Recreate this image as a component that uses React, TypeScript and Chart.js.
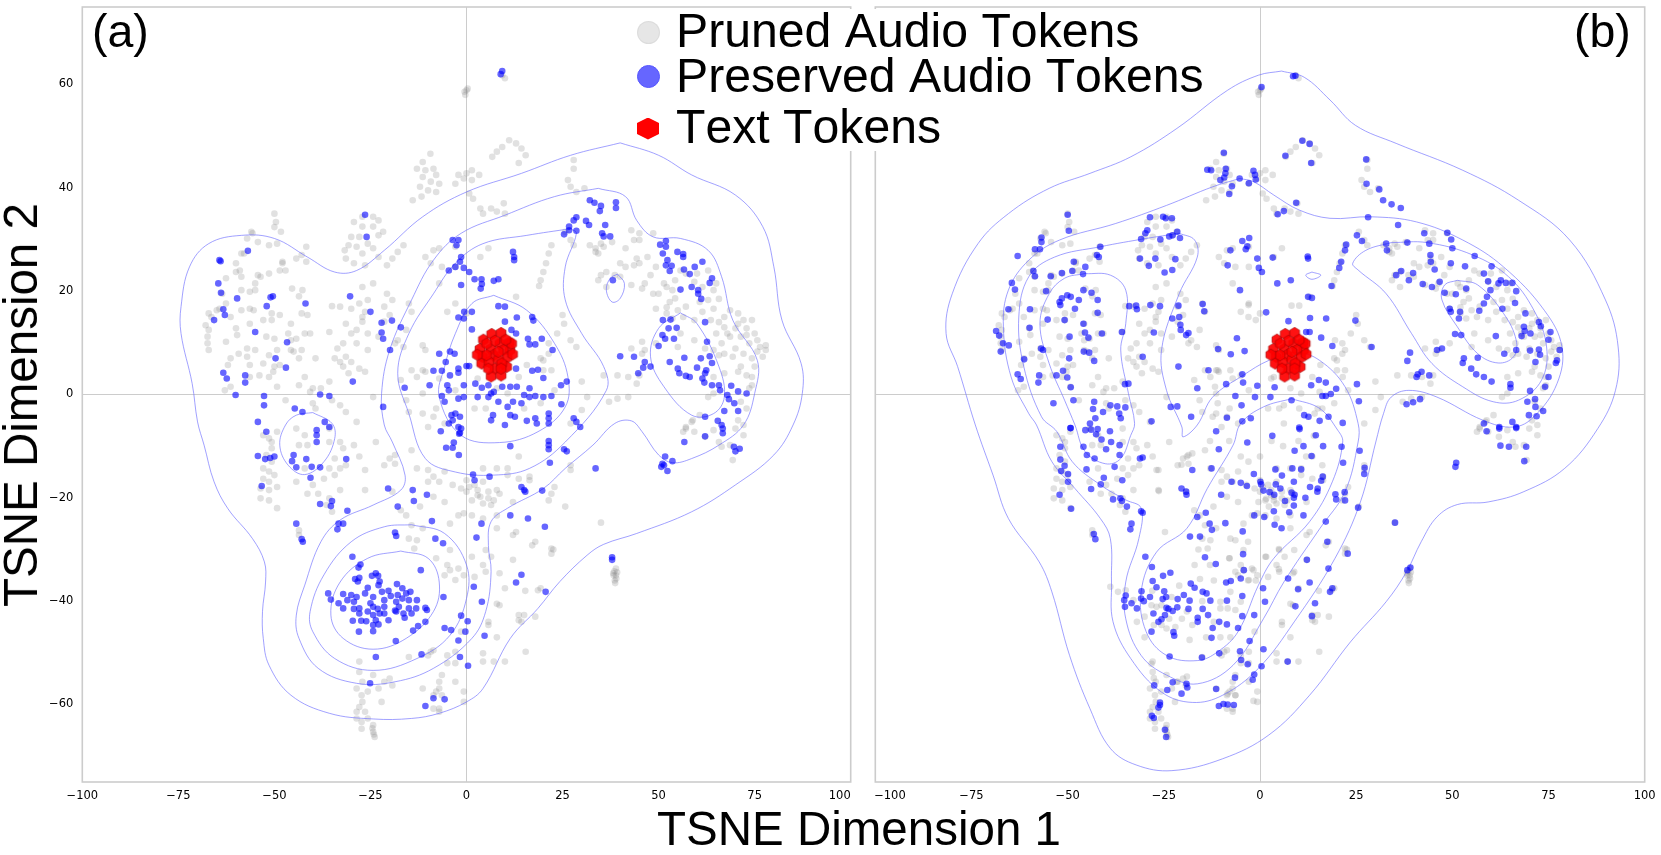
import React, { useEffect, useRef } from "react";
import { Chart, registerables } from "chart.js";

Chart.register(...registerables);

type P = [number, number];

const xTicks = [-100, -75, -50, -25, 0, 25, 50, 75, 100];
const yTicks = [-60, -40, -20, 0, 20, 40, 60];
const legendLabels = ["Pruned Audio Tokens", "Preserved Audio Tokens", "Text Tokens"];
const xTitle = "TSNE Dimension 1";
const yTitle = "TSNE Dimension 2";

const textTokens: P[] = [
  [4.4,10.6],[6.55,11.7],[9,11.9],[11.15,10.05],[3.5,8.8],[6.3,8.8],[8.7,9.85],[11.3,8.6],[7.4,10.4],[4.2,7.3],
  [7,7.6],[9.6,8.6],[10.6,7.15],[3.95,6],[5.9,6.3],[8.3,6.75],[10.45,5.35],[7.4,5],[6.4,3.5],[9,3.7],
  [5.25,9.85],[8.3,8.25],[11.75,9.85],[9.15,6],[5.7,5],[5.2,7.6],[10.2,10.6],[2.8,7.7],[9,5],[12,7.8],
];

const prunedShared: P[] = [
  [0,58.9],[0.3,59.2],[-0.3,58],[-0.5,58.6],[9.3,61.8],[10,61.2],[11.1,49.2],[9.3,47.9],[7.9,47],[6.7,46],[12.9,48.6],[14.3,47.6],[15.4,46.3],[13.6,44.8],
  [-9.4,46.6],[-11.4,45],[-12.9,43.7],[-10.7,43.4],[-8.6,43.7],[-7.9,42.5],[-11.4,42.1],[-9.3,41.2],[-7.1,40.8],[-12.1,40.2],[-10,39.5],[-7.9,39.2],[-11.7,38.3],[-14,37.6],
  [-2.1,42.5],[0,42.8],[1.4,43.4],[-0.7,41.8],[1.4,41.5],[3.3,42.5],[-2.9,40.8],[0.7,38.9],[1.7,37.9],[3.6,36],[4.3,35],[6.4,36],[7.9,35.4],[9.7,37],[10,35],
  [27.9,45.4],[27.9,43.7],[26.4,41.5],[27.1,40.2],[28.6,39.2],[30.7,39.9],
  [-27.1,34.4],[-24.3,34.4],[-29.3,33.4],[-22.9,33.7],[-27.1,32.5],[-24.3,32.5],[-21.7,31.5],[-30,30.5],[-27.9,30.5],[-22.9,30.8],[-30.7,28.9],[-28.6,28.6],[-25.7,29.2],[-24.3,28.3],[-31.7,27.9],[-31.4,26.3],[-27.1,27.3],[-29.3,25.4],[-26.4,25],[-22.9,26.6],[-19.3,26.3],[-17.9,27.6],[-16.4,28.9],[-20.7,25],
  [-50,35],[-49.6,33.4],[-50,32.4],[-48.3,31.5],[-56,31.5],[-57.1,30.2],[-51.4,28.9],[-49.3,29.2],[-41.7,28.6],[-42.9,27],[-44.3,26.3],[-41.7,25.7],[-57.9,27.3],[-60,25.4],[-59,24],[-47.9,25.4],[-48.6,24],[-51.4,23.4],[-54.3,23.1],[-58.6,22.8],[-55,20.2],[-56.4,19.9],[-45.4,20.5],[-42.7,20.2],[-62.6,22.5],[-62.6,17.6],[-67.1,15.7],[-65,16.3],[-67.1,12.5],[-67.4,9.9],[-67.1,8.6],[-62.6,10.2],[-61.4,7],[-60,12.8],[-59.7,11.5],[-56.4,13.7],[-55.4,16.3],[-50.7,14.4],[-48.6,15.4],[-42.9,15.7],[-41.4,15.4],[-45.7,13.7],[-42.1,11.8],[-40.7,11.8],[-52.1,11.2],[-50,10.8],[-45.7,10.5],[-44.3,10.8],[-57.1,8.9],[-55,8.6],[-45,8.3],[-42.9,8.6],[-51.4,7.6],[-39.3,7],[-56.4,5.7],[-50,5.4],[-53.9,3.7],[-50.3,4.4],[-56.4,3.4],[-49.3,1.5],[-43.6,1.8],[-35.7,2.5],[-40,1.2],[-34.3,7],[-31.4,7.3],[-32.1,9.9],[-35.7,12.1],[-35,17.1],[-32.9,17],[-30,16.6],[-27.9,17.6],[-26.4,16],[-31.4,13.7],[-28.6,12.5],[-27.1,15],[-25.7,11.8],[-25.7,8.6],[-32.1,5.4],[-30,6.3],[-27.9,5],[-26.4,4.4],
  [-20.7,19.5],[-19.3,18.3],[-15,17.6],[-21.4,17],[-20,15.4],[-14.3,16],[-17.9,10.5],[-16.4,9.2],[-11.4,9.5],[-10.7,8.6],[-11.4,4.7],[-14.3,4.7],[-12.9,3.4],[-10.7,4.4],[-24.3,-0.5],[-17.1,2.8],[-15.7,-1.1],[-11.4,0.2],[-15,-3.4],[-8.6,-4.3],[-11.4,-3.7],[-5.7,-5.6],
  [-10.7,26.6],[-8.6,27.9],[-7.1,28.3],[-9.3,25.4],[-6.4,24.7],[-7.1,21.5],[-2.9,24.7],[-2.9,28.6],[3.6,26.6],[5.7,28.3],[12.9,18.9],[-2.9,17.6],[-5,16],[0,15.7],
  [22.1,28.9],[21.4,27.3],[20.7,25.4],[20,23.7],[19.3,22.1],[18.9,21],[27.1,29.9],[27.9,28.9],[25.7,31.5],
  [25,15.4],[25.4,13.7],[27.1,10.5],[28.6,9.2],[23.6,11.8],[21.4,9.9],[21.4,7.9],[19.3,7],[22.1,4.7],[35.7,3.7],[39.3,3.7],[42.1,3.4],[44.3,2.1],[45,3.7],[37.1,-1.4],[39.3,-0.8],[42.1,-0.5],
  [35,29.2],[34.3,27.3],[33.6,28.3],[37.9,29.5],[42.9,31.8],[45,29.9],[48.6,31.2],[41.4,28.3],[44.3,26.3],[43.6,25],[40,25.4],[36.4,23.7],[35,23.1],[34.3,22.1],[36.4,20.8],[40,22.8],[42.9,21.2],[45.7,20.5],[48.6,19.5],[52.1,20.8],[54.3,22.1],[47.9,23.1],[49.3,24.7],[57.1,23.4],[60,23.4],[62.9,24],[64.3,20.2],[65.7,18.5],[57.1,17],[52.9,17.9],[49.3,16.6],[55,16.3],[59.3,14.4],[64.3,16.6],[67.1,15],[70.7,15.7],[72.1,14.4],[74.3,14.4],[67.1,13],[70,12.8],[72.9,12.8],[75,11.8],[68.6,11.2],[71.4,11.2],[75.7,10.5],[73.6,9.9],[77.9,8.6],[76.4,9.2],[66.4,9.9],[70,8.9],[77.1,7.3],[74.3,7],[71.4,5.4],[75,5.4],[65.7,7.6],[62.1,8.9],[45.7,10.2],[46.4,8.6],[55,9.2],[59.3,10.5],[74.3,1.8],[64.3,0.2],[58.6,-5.3],[57.1,-6.3],
  [57.1,-6.6],[59.3,-7.2],[62.1,-8.2],[65.7,-9.2],[68.6,-9.8],[72.1,-7.9],[70,-6.6],[64.3,-6.9],[56.4,-7.2],[69.3,-12.7],[66.4,-10.1],
  [-51.4,-8.5],[-50.7,-10.4],[-52.1,-11.7],[-50.7,-13],[-51.4,-14.9],[-51.4,-16.9],[-53.6,-18.2],[-51.4,-18.5],[-53.6,-20.1],[-51.4,-20.5],[-49.3,-22],[-44.3,-6.6],[-42.1,-7.9],[-43.6,-9.8],[-35.7,-6.6],[-32.1,-10.4],[-29.3,-9.8],[-34.3,-12.4],[-32.9,-14.3],[-35.7,-14.3],[-37.1,-16.3],[-44.3,-16.9],[-41.4,-19.2],[-35.7,-20.1],[-35,-22.7],[-32.9,-18.5],[-43.6,-27.2],[-26.4,-14.6],[-26.4,-18.5],[-23.6,-9.2],[-20,-12.4],[-18.6,-13.4],[-19.3,-18.8],[-14.3,-10.8],[-12.9,-14.3],[-10,-14.6],[-7.1,-16.9],[-3.6,-17.5],[-10,-16.9],
  [0,-16.6],[2.1,-17.5],[4.3,-16.9],[0,-18.8],[2.9,-19.5],[5.7,-18.8],[8.6,-19.2],[1.4,-20.5],[4.3,-21.1],[7.1,-20.5],[-0.7,-23],[1.4,-23.4],[4.3,-24],[6.4,-21.4],[12.1,-20.8],[10.7,-14.3],[7.9,-14.3],[4.3,-14.3],[13.6,-12],[27.1,-14.6],[16.4,-15.9],[25.7,-21.7],[22.9,-17.9],[21.4,-20.5],[35,-24.8],[12.9,-26.6],[17.9,-28.5],[22.1,-30.8],[22.6,-30],[7.9,-25.9],
  [-15,-27.9],[-12.9,-28.2],[-11.4,-25.9],[-13.6,-29.8],[-4.3,-30.1],[-7.9,-31.7],[-4.3,-34],[-2.1,-33.7],[1.4,-31.4],[5,-30.1],[12.1,-32],[8.6,-34.6],[5,-34.3],[2.1,-35.3],[10,-37.5],[18.6,-37.9],[15.3,-38],[7.9,-40.5],[13.6,-42.7],[14.3,-44],[17.9,-43],[5.7,-44.6],[7.9,-47],[15.4,-49.8],[4.3,-50.1],[10,-51.7],[4.3,-51.7],[7.1,-51.7],[-5,-52],[-2.9,-52],[-1.4,-45.9],[-9.3,-49.8],[-15,-50.8],[-6.4,-54.3],[-2.9,-55.6],[-7.1,-56.9],[-8.6,-58.2],[-0.7,-57.5],[-11.4,-56.9],[-7.1,-60.8],[-0.7,-59.5],
  [-27.9,-51.7],[-27.9,-53.7],[-24.3,-54.3],[-21.4,-55.6],[-20,-55],[-28.6,-56.9],[-25.7,-57.5],[-22.1,-59.5],[-27.3,-58.2],[-27.9,-60.5],[-26.4,-61.4],[-28.6,-62.7],[-27.3,-63.4],[-27.3,-64.7],[-24.3,-64],[-24.3,-65.3],[-23.9,-66.3],[-24.1,-65.8],[-24.5,-64.6],
  [38.9,-33.7],[38.9,-35],[38.6,-36],[39.2,-34.4],[38.3,-35],[38.5,-34.2],[39,-35.6],[38.7,-36.5],[38.2,-34.6],
  [52.1,15.7],[53.6,14.7],[56.4,15],[61.4,16],[63.6,14.4],[65.7,14],[68.6,16.3],[65,11.8],[67.9,11.8],[70.7,13.7],[72.9,11.5],[67.1,7.9],[64.3,8.6],[69.3,7.3],[72.1,7.9],[75.7,8.3],[77.9,9.5],[72.9,3.7],[70.7,4.4],[67.1,4.1],[74.3,3.4],[73.6,1.2],[71.4,-1.4],[72.9,-2.7],[70.7,-5],[72.1,-5.9],[62.9,-0.5],[60.7,-4],[58.9,-5],[64.3,3.4],[55.7,11.8],[49.3,9.9],[45.7,7.9],[42.9,8.9],
  [47.1,26.6],[45,25.4],[41.4,24.7],[38.6,23.1],[46.4,21.5],[50,19.5],[51.4,21.5],[53.6,20.2],[55.7,24],[59.3,21.8],[61.4,20.8],[65,21.5],[60.7,17.9],[62.9,18.3],[54.3,18.6],[52.1,16.9],[35.7,28.6],[32.1,28.9],[33.6,27.6],[43.6,29.9],[45,31.2],
  [-58.6,27.3],[-55.7,31.2],[-54.3,29.5],[-47.9,25.7],[-47.1,24],[-53.6,22.8],[-55,21.5],[-43.6,19],[-60,23.7],[-58.6,20.2],[-63.6,19.5],[-64.3,16.6],[-66.4,15],[-67.9,13.4],[-67.4,11.2],[-61.4,15],[-58.6,16.3],[-56.4,16.6],[-52.9,14.4],[-50.7,15.7],[-46.4,11.8],[-45.7,8.6],[-43.6,7],[-49.3,8.6],[-52.9,6],[-57.1,7.3],[-59.3,7.9],[-62.1,5.7],[-61.4,1.5],[-62.9,0.8],[-51.4,3.4],[-48.6,5.7],[-42.1,3.4],[-40.7,0.5],[-37.9,1.2],[-35,-1.1],[-40,-1.7],[-47.1,-1.1],[-39.3,-2.7],[-32.9,-2.1],[-31.4,-3.4],[-28.6,-5.3],[-32.9,6.3],[-30.7,4.1],[-33.6,8.9],[-30,11.8],[-27.1,14.1],[-21.4,14.1],[-22.9,11.2],[-15.7,12.5],[-18.6,9.9],[-25.7,18.3],[-27.1,20.8],[-24.3,21.5],[-28.6,9.9],
  [-52.9,-7.9],[-49.3,-7.2],[-50.7,-9.2],[-52.9,-14.3],[-50,-15.6],[-52.9,-16.3],[-49.3,-17.9],[-42.1,-14.3],[-40,-17.5],[-38.6,-19.2],[-36.4,-21.4],[-34.3,-15.6],[-31.4,-13.7],[-41.4,-9.8],[-32.9,-9.2],[-35.7,-9.2],[-27.9,-12],[-43.6,-26.3],[-14.3,-25.3],[-15.7,-23.4],[-17.1,-22.4],[-12.1,-21.7],[-8.6,-19.8],[-5.7,-20.8],[-2.1,-23.4],[-4.3,-25],[-18.6,-11.7],[-21.4,-13.7],[-8.6,-15.9],[-5.7,-14.9],[-1.4,-18.2],[0.7,-17.9],[2.9,-18.5],[3.6,-19.8],[5.7,-20.1],[7.9,-18.5],[10.7,-15.6],[13.6,-16.3],[16.4,-16.6],[22.1,-19.2],[27.1,-13.7],[7.9,-23.4],[12.1,-27.2],[22.1,-29.8],[17.1,-29.2],[6.4,-31.4],[4.3,-33],[-5,-33],[-5.7,-35],[-2.9,-35.9],[-0.7,-35],[13.6,-43.7],[15,-42.7],[5.7,-44],[8.6,-40.8],[19.3,-37.5],[-2.9,-49.8],[-5,-50.5],[-10,-50.5],[-8.6,-49.5],[-7.1,-55.6],[-7.9,-57.5],[-6.4,-58.2],[-8.6,-60.8],[-7.1,-61.4],[-22.9,-56.9],[-19.3,-56.3],[-27.1,-55.6],[-27.1,-59.5],[-28.6,-61.4],[-25.7,-62.7],
  [13.6,3.4],[15.7,5.7],[20,6.6],[20,4.7],[22.9,0.8],[30,2.5],[31.4,-0.5],[30,-3],[27.1,-5.6],[19.3,-1.7],[15,-2.7],[5,-2.7],[2.1,-2.7],[2.9,3.1],[7.9,1.2],[10.7,0.2],[-2.9,0.8],[-7.1,3.1],[-7.9,-2.7],[-10,-6.3],
];

const prunedBOnly: P[] = [
  [-26.9,-14.6],[-19,-12],[-17.6,-11.4],[-20.4,-13.6],[-26.3,-18.7],[-24.7,-26.6],[-7.7,-27.9],[-6.4,-28.2],[-3.1,-28.5],[-6.4,-34.3],[-1.7,-34],[4.9,-33.8],[8.9,-34.3],[8.9,-30.1],[4.9,-29.9],[1.6,-31.4],[-8,-31.7],[-3.1,-36],[-1.1,-36],[-15.6,-35.7],
  [-23,-39.2],[-26.9,-41.1],[-28.2,-40.8],[-25.6,-40.8],[-23.6,-43.4],[-25.6,-44.6],[-24.3,-45.3],[-27.6,-44.6],[-20.3,-43.4],[-17.6,-44.6],[-8.4,-41.4],[-6.4,-41.7],[-10.3,-41.4],[-7.7,-38.2],[-10.3,-40.1],[-5,-40.1],[-18.3,-47.5],[-10.3,-47],[-7.7,-47],[-38.9,-37.2],[-36.9,-38.2],[-34.9,-37.9],[-32.9,-39.8],[-19,-54.6],[-21.6,-55.6],[-27.6,-54.9],[-28.2,-52.1],[-8.4,-57.9],[-6.4,-58.2],[-1.7,-59.3],
  [3.6,-20.5],[2.3,-21.7],[-0.4,-20.8],[1.6,-20.2],[16.2,-13.7],[-3,17.3],[-3,15],[-1.1,14.4],[8.2,17.2],[10.2,17.2],[-11,4.7],[-7.7,4.7],[-5,3.7],[-11.7,1.5],[3.6,3.4],[15.5,0.5],[21.5,3.4],[22.1,8.6],[19.5,10.5],[6.2,-2.1],[10.2,-2.7],[14.2,-3.7],[-11,-1.7],[-12.3,-4.3],[6.2,-5.6],[16.2,-2.7],
  [-30,-43],[-28,-38],[-21,-37],[-22,-45],[-15,-40],[-12,-44],[-30,-47],[-19,-42],[-32,-44],[-14,-47],[-5,-12],[3,-9],[12,-12],[-16,-30],[-12,-36],[-17,-33],[-13,-33],[6,-10],[-3,-13],[10,-9],[0,-12],[14,-8],[-8,-9],[-13,-9],
];

const preservedA: P[] = [
  [9.3,62.6],[8.9,62],[-26.4,34.8],[-26,30.5],[-64.3,26],[-64,25.8],[-56.9,27.8],[-64.6,21.5],[-63.9,19.7],[-59.7,18.6],[-50.4,19],[-51,18.8],[-52,17.1],[-41.9,17.6],[-30.3,19],[-63.3,16.5],[-62.9,15.4],[-65.7,14.4],[-55,12.1],[-46.7,10.1],[-25,16],[-22.1,13.9],[-19.4,14.3],[-17.1,13],[-22.1,12],[-21.7,10.8],[-19.9,8.6],[-49.7,7],[-47,5.2],[-63.3,4.2],[-62.4,3.1],[-57.6,3.7],[-57.6,2.3],[-60.1,-0.1],[-52.7,-0.3],[-52.7,-2.1],[-44.7,-2.7],[-42.7,-3.4],[-54.3,-5.3],[-38.1,0],[-35.7,-0.3],[-29.6,2.5],[-36.9,-5.3],[-35.7,-6.3],[-21.7,-2.4],[-16.1,1.3],
  [-3.6,29.9],[-2.1,29.9],[-2.6,28.9],[-1.4,26.6],[-1.7,25.7],[-2.9,24.7],[-0.7,24.5],[0.7,23.7],[-4.6,24],[2.1,22.3],[3.9,22.3],[-1.4,21.2],[4,21.4],[3.7,20.5],[7.1,22],[8.3,22.3],[12.1,27.6],[12.4,26.6],[12.4,26],
  [25.4,31],[26.7,32.5],[28.6,34.3],[27.9,33.7],[26.7,31.8],[28.6,31.7],[31.1,33.6],[31.9,32.8],[32.1,37.6],[33.3,37.1],[35,36.5],[34.7,35.5],[38.9,37.2],[38.9,36.1],[36.1,32.8],[35.3,31.2],[35.7,30.6],[37.4,30.6],[38.1,22.1],
  [51.9,29.7],[50.4,29],[51.9,28.6],[51.1,27.3],[54.9,27.6],[56.4,27.2],[56.4,26.6],[61.4,25.7],[52.3,26],[51.9,25],[53.4,24.9],[56.6,24.2],[59.4,24.7],[52.9,23.9],[58.1,23.3],[63.9,22.5],[63.3,21.6],[58.6,20.8],[60.3,20.2],[55.7,20.3],[60.3,19.5],[61.1,18.5],
  [51.1,14.4],[53.1,14.5],[62.1,14],[54.7,12.9],[52.6,12.8],[51,11.5],[51.7,10.8],[50,9.4],[54,10.8],[62.6,10.2],
  [40,7.4],[43.6,7.3],[46.4,6.3],[47.9,5.4],[46,5.2],[44.7,4.1],[52.9,6.3],[56.7,7.1],[61,7],[63.3,7.4],[63.9,6.1],[62.4,4.7],[60,5.2],[55,5],[55.4,4.1],[57.1,3.6],[58.1,3.4],[62.1,4.1],[61.4,3.1],[61.9,2.3],[63.9,1.8],[65.7,1.8],[66,0.8],[68.9,1.7],[67.9,-0.1],[70.7,0.6],[68.3,-0.9],[72.9,0.2],[69.7,-1.7],[67.1,-3.2],[70.7,-3.2],[62.1,-4.3],[65.4,-5.1],[66.4,-5.9],[66.7,-6.6],
  [8.3,17.1],[10,17],[-0.6,16],[1.4,16],[-2.1,14.9],[-0.7,14.7],[13.1,14.9],[17.1,15],[17.4,14.3],[1.4,12.6],[10,14.1],[11.7,12.5],[12.9,11.8],[16,10.8],[19.6,10.8],[16.4,9.7],[17.9,9.7],[22.4,8.6],[-7.1,7.9],[-4.3,8.3],[-3.1,7.9],[-5.4,6.3],[0,5.5],[0.7,5.5],[-2.1,5],[-8.6,4.6],[-6.4,4.6],[-2.1,4.2],[-4.3,3.7],[-9.6,1.8],[-5,1.8],[-4.6,0.8],[-0.7,1.8],[2.3,2.1],[5.7,1.8],[4,1.3],[7.1,0.5],[9.3,1.5],[11.4,1.5],[13.1,1.5],[12.9,5],[17.1,4.6],[18.6,4.8],[20,3.2],[24.6,1.8],[26.1,2.5],
  [-6.4,-0.3],[-5.7,-1.4],[-2.1,-0.8],[-0.7,-0.5],[2.9,-0.5],[6.4,0.2],[5.7,-0.5],[8.3,-1.4],[10.7,-2.4],[12.1,-1.4],[15,-0.1],[16.4,-0.5],[17.9,-0.3],[20,-0.5],[22.1,-0.3],[24.7,-1.9],[16.4,1.2],[14.3,-1.7],[-2.9,-3.7],[-3.9,-4],[-1.7,-4.3],[-3.6,-5],[-2.1,-6.3],[-4.6,-5.6],[-1.4,-6.6],[6.9,-4],[6.4,-5],[10,-5.9],[11.4,-4],[12.6,-4.3],[15.7,-5.1],[17.9,-4.6],[18.3,-5.6],[21.4,-3.7],[21.4,-4.6],[21.4,-5.6],[27.9,-4.6],[28.6,-5.3],[29.6,-6.3],
  [-52.1,-7.2],[-39,-6.9],[-39,-7.9],[-39,-9.2],[-54.3,-11.9],[-52.4,-12.5],[-51.1,-12.3],[-50,-12],[-45,-11.7],[-45.4,-12.9],[-41.7,-12.5],[-44.3,-14.1],[-40.3,-14],[-38.1,-14.1],[-40.6,-16.1],[-31.3,-12.5],[-53.3,-17.7],[-38.1,-21.2],[-35,-20.6],[-35.3,-21.6],[-31,-22.5],[-44.3,-25],[-33.3,-25],[-32.1,-25],[-33.6,-26.1],[-42.9,-28],[-42.6,-28.5],
  [-20.4,-18.2],[-14,-18.5],[-10.3,-19.4],[-13.7,-20.6],[-17.9,-21.7],[-9,-24.5],[-18.6,-26.7],[-18.3,-27.4],[-8.1,-27.9],[-6.1,-28.8],[-6.7,-7.1],[-1.7,-7.4],[-1.9,-7.6],[-3.3,-9.3],[-5.3,-10.3],[-3.6,-10.3],[-2,-11.7],[1.7,-15.5],[2.1,-16.6],[6,-15.9],[11.4,-10],[21.4,-9],[21.4,-9.8],[21.4,-10.6],[25.4,-10.6],[26.1,-11],[21.7,-13.2],[33.6,-14.3],[14.3,-17.9],[15,-18.5],[15.3,-18.8],[19.7,-18.6],[11.4,-23.4],[16,-24],[20.4,-25.6],[3.9,-25],[2.6,-27.7],
  [51.7,-12],[53.6,-12.9],[51,-13.4],[50.7,-14],[51.4,-13.7],[52.3,-14.8],[56.7,-9.2],[62.1,-8.1],[66.7,-7.5],[69.6,-10.1],[71.1,-10.5],[70,-11],[37.9,-31.5],[37.9,-32],
  [-11.9,-34],[-29.7,-31.4],[-27.6,-32.9],[-28.1,-33.5],[-23.6,-34.6],[-24.6,-35.1],[-23,-35.1],[-22.6,-36.2],[-22.9,-36.9],[-29,-35.7],[-27.9,-35.5],[-28.3,-36.2],
  [-36,-38.5],[-32.1,-38.6],[-35.3,-39.7],[-30,-38.8],[-31,-39.8],[-28.6,-39.2],[-33.3,-40.4],[-32.1,-41.4],[-29.3,-40.1],[-29.3,-41.5],[-27.9,-41.4],[-27.9,-42.4],[-25.7,-37.4],[-26.4,-38.5],[-24.3,-39.2],[-25,-40.4],[-24.3,-41.1],[-23.1,-41.5],[-25.7,-42],[-24.3,-42.7],[-22.6,-42.4],[-21.4,-41.1],[-22,-38.2],[-20.3,-38],[-19.7,-39],[-21.4,-39.8],[-18.1,-36.7],[-16.7,-37.5],[-17.9,-38.8],[-15.7,-38.5],[-14.6,-38.2],[-16.7,-39.5],[-18.3,-40.1],[-15,-39.8],[-12.9,-39.8],[-17.6,-41.1],[-18.6,-41.8],[-15,-41.4],[-13.1,-41.4],[-10.7,-41.3],[-10.3,-41.7],[-16.4,-42.4],[-14.3,-42.4],[-16.1,-43.2],[-10.7,-44],[-29.6,-43.8],[-27.4,-43.8],[-26.1,-43.9],[-23.6,-43.7],[-24.3,-44.6],[-22.9,-44.5],[-20.3,-43.7],[-21.4,-42.4],[-18.3,-42],[-12.6,-44.8],[-13.9,-45.7],[-28,-45.9],[-24.3,-45.8],[-18.4,-47.7],[-23.6,-50.8],
  [-6,-39.2],[1.9,-37.2],[4,-40.1],[14.3,-34.9],[12.9,-36.4],[20.6,-38.2],[-1.4,-42.8],[0.3,-43.9],[-5.7,-45.2],[-4,-45.6],[-0.3,-45.9],[-2.1,-47.6],[4.7,-46.7],[-11.7,-50.3],[-1.7,-50.8],[0.4,-52.5],[-25.1,-55.9],[-8.6,-58.8],[-5.7,-59],[-10.7,-60.3],
];

const preservedB: P[] = [
  [8.6,61.6],[9.2,61.7],[0.4,59.5],[11,49.1],[12.9,48.5],[6.6,46.2],[13.3,44.8],[-9.4,46.8],[-13.7,43.5],[-12.7,43.4],[-8.9,43.7],[-9,42.8],[-9.3,42],[-10.3,41.5],[-5.3,41.8],[-1.7,43.3],[-1.3,42.5],[-1.1,41.6],[-2.9,40.9],[-7.3,40.3],[-8,38.8],[9.4,37.1],[6.2,35.5],[4.6,34.9],[27.6,45.5],[27.7,40.8],[31,39.7],[32,37.6],[34.2,36.8],[36.6,36.1],[28.1,34.3],[35.9,32.8],
  [-50,34.8],[-49.7,31.7],[-56.8,30.4],[-56.8,29.5],[-58.5,28.1],[-57.2,28.1],[-63,26.8],[-58.9,23.9],[-58.5,22.9],[-54.4,22.9],[-51.5,23.5],[-48.4,25.7],[-48.8,23.9],[-45.4,24.7],[-46,23.3],[-64.5,21.6],[-63.7,20.3],[-65.4,16.5],[-55.6,20],[-59.8,16.5],[-59.9,12.9],[-55.2,14.5],
  [-68.6,12.3],[-67.8,11.4],[-66.8,9.9],[-65.3,9.5],[-67.4,8.3],[-61.3,6.8],[-56.9,8.9],[-56.4,8.6],[-63,3.9],[-62.2,3],[-57.4,3.7],[-57.6,2.3],[-52.9,3.7],[-51.2,4.6],[-50.1,3.3],[-49.2,1.4],[-48.5,-1.1],[-53.7,-1.7],[-43.1,-1.4],[-43.4,-2.8],[-38.9,-2.1],[-37.1,-2.3],[-35,-2.5],[-36.6,-3.7],[-36.2,-4.6],[-40.8,-3.4],[-42.8,-4.6],[-44.2,-5.6],[-49.3,-6.5],[-28.2,-5.2],[-23.2,-2.4],[-21.5,-2.3],[-17.9,-4.3],
  [-50.1,19.2],[-49.2,18.9],[-51.5,18.6],[-52.1,17.9],[-51.9,17.3],[-47.1,18.3],[-45.9,20.2],[-43.8,19.7],[-42.2,18.3],[-42.2,15.8],[-48.1,16.6],[-50.8,14.4],[-45.9,13.7],[-49.5,11.2],[-45.5,12],[-44.6,11],[-41.1,11.8],[-35.9,12.1],[-27.6,12],[-45.8,8.3],[-44.4,8.1],[-49.6,7],[-43.1,6.5],[-30.5,7.3],[-21.2,5.4],[-34.2,2.1],[-35.1,2],[-41.5,28.6],[-42.4,27],[-41.9,26.6],
  [-28.6,34.3],[-25.2,34.4],[-24.5,34.1],[-22.9,34.1],[-29.3,31.8],[-29.8,31.2],[-30.9,30.1],[-25.9,30],[-23.6,30.6],[-22.7,30.8],[-21.5,31.5],[-20.8,30.3],[-31.2,26.3],[-27.2,26.3],[-28.9,24.9],[-24.8,23.6],[-22.8,24.1],[-22,26.2],
  [-34,17.1],[-32.2,17.2],[-32,16.5],[-28.5,17.3],[-26,17.1],[-21.2,17.2],[-22.8,14.7],[-21,15],[-20.7,13.5],[-20.6,12.5],[-18.6,11.9],[-19.2,11.5],[-14.9,17.5],[-14.5,16.1],[-6,10.9],[-10.9,8.8],[-7.6,7.8],[-4,8.4],[-13.4,4.7],[-8.8,2],[-4.6,3.9],[-16.3,1.2],[-4.4,2.3],[-6.4,-0.3],[-4.8,-2.1],[-8.6,-4.5],[-4.6,-5.2],[-2.4,-4.6],[-1.3,-0.5],[-0.7,1.7],[3.8,1.4],[2.7,-0.5],[8.2,-1.1],[13.3,1.8],[15.3,2.8],[17.1,2.3],[19.8,1.1],[16.2,-0.3],[17.1,-0.3],[25.7,-1.3],[25.2,2],[18.4,0.1],[11.5,-4],[12.6,-4.3],[15.5,-5.1],[17.8,-4.3],[10.2,-6.4],[21.5,-5.5],
  [-4.6,29.7],[-2.8,30.3],[-3.3,28.7],[-3.7,28.1],[-7.7,27.9],[-0.7,26.3],[3.3,26.5],[12.5,26.3],[12.4,26.7],[-8.4,25],[-0.3,24.5],[0.5,23.7],[4.5,21.5],[8,22.1],[-5.2,20.2],[12.5,18.9],[13.5,18.7],[1.6,15.9],[13,14.8],[17.2,14.7],[7.4,14.2],[24.8,14.3],[12.9,12.1],[12,12.1],[15.9,11],[18.8,9.4],[29,9.2],
  [22.4,29],[22.1,27.9],[21.1,25.7],[20.6,24.5],[18.6,21],[25.2,30.8],[26.5,29.7],
  [32.8,29.2],[33,27.9],[38.3,29.4],[42.7,31.2],[44,29.2],[48.7,31.3],[49.7,30],[50,28.3],[44.3,27],[44.4,25.7],[45.4,24.2],[49.6,25.4],[53.3,24.8],[55.8,26.8],[60.2,24.8],[58.2,23.4],[36.7,23.9],[35.4,23.1],[39.8,23.5],[38.7,22.1],[42.3,21.4],[44.7,20.8],[46.7,21.8],[48,19.7],[50.9,19.4],[53.6,20.5],[59.3,21.9],[59,18.9],[62.6,22.1],[62,21.5],[63.9,21.6],[65.6,21.6],[59.9,20.2],[66.6,20],[66.3,17.7],[58.2,17.6],[57,16.2],[63,16.6],[69,15.7],[49.3,16.6],[49.6,16],[52,16],[51.7,14.7],[72.5,14],[73,13.2],[68.6,13.1],[68.8,12.3],[70.3,11.8],[68,11.3],[75.5,12.1],[75,10.6],[61.3,11.3],[50.7,11.7],[52.3,11.5],[77.9,8.6],[70.2,8.5],[72.5,8.7],[72.8,7.7],[66.6,8.6],[71.6,6.3],[77.2,6.6],[76.9,6.1],[63.5,7.9],[56.6,7.1],[53,7],[52.7,6.1],[54.9,5],[56.2,3.9],[58.2,3.4],[60.2,2.5],[65.1,2],[65.1,1.3],[70.2,0.7],[75,3.4],[74.1,1.5],[71.5,-0.9],[69.5,-1.4],[73.6,-3.2],[71.6,-2.4],[69.9,-4],[71.9,-4.2],[65.6,-5.3],[66.6,-6.3],[62.2,-6.3],[58.2,-5.6],
  [39,8.1],[38.3,6.5],[46,8.6],[47.3,8.9],[42,4.4],[44,3.7],[40.7,3.4],[41,3.9],[38.1,-1.9],[39.8,-1.5],[41.6,-0.9],
  [-49.2,-6.5],[-45.4,-6.9],[-43.9,-6.8],[-42.2,-6.7],[-39,-7.1],[-42.6,-7.7],[-41.2,-8.7],[-38.7,-9.2],[-36.5,-9.8],[-45.9,-10.1],[-40,-10.6],[-51.9,-10.1],[-45,-11.7],[-36.5,-11.7],[-43,-12.4],[-51.9,-12.6],[-50.8,-13.8],[-37.8,-14],[-45.1,-14.5],[-51.7,-14.8],[-49.9,-15.4],[-40.6,-16.1],[-35.8,-16.6],[-49.9,-16.9],[-41.4,-17.4],[-43.9,-18.3],[-52.1,-19.4],[-49.1,-22.1],[-38.2,-20.3],[-36.3,-20.1],[-35.9,-20.6],[-34.6,-21.7],[-30.9,-22.6],[-30.5,-22.9],[-33.4,-25],[-33.7,-26.1],[-43.2,-27],[-42.8,-28],[-31.2,-12.4],[-30.5,-12.2],[51,-13.2],[50.8,-14],
  [-11.4,-7.1],[-10.7,-10.6],[-17.6,-14.6],[-12.6,-14.3],[-3.3,-9.3],[3.2,-8],[10.3,-6.7],[14.5,-7.9],[11.3,-10],[9,-10.9],[16.4,-10],[13.4,-11.9],[21.2,-10.1],[25.9,-10.9],[21.6,-13.2],[27.2,-14.2],[27.1,-15.4],[8.4,-14.3],[10.7,-14.5],[4,-14.5],[5.7,-15.7],[-1.6,-15.4],[0.1,-16.9],[0.3,-17.4],[4.1,-17.4],[8.8,-16.9],[16.3,-15.9],[15.9,-16.7],[5.3,-18.2],[0.9,-18.6],[2.5,-18.9],[3.7,-19.4],[8.2,-19],[9,-19.4],[8.8,-20],[11.8,-20],[13,-17.9],[15,-18.2],[14.9,-18.8],[19.6,-19.3],[19.8,-20.3],[22,-18.9],[22.1,-20.5],[6.5,-20.6],[8.8,-21.5],[3.6,-22.6],[7.6,-22.8],[-1.5,-23.4],[1.1,-23.7],[11.3,-23.4],[25.5,-21.9],[17.1,-24.6],[3.8,-25.2],[5.6,-25.9],[17.5,-28.5],
  [-7.4,-16.9],[-5,-17.1],[-3.4,-17.7],[-10.1,-19.4],[-20.4,-18.2],[-19.2,-18.8],[-19.1,-19.4],[-16.3,-23.7],[-14.1,-22.9],[-13.1,-25],[-12.5,-26.2],[-9,-24.9],[-4.5,-26.5],[-18.2,-27.5],[-15.6,-27.5],[-4.4,-30.9],[-29.8,-31.4],[-28.1,-33.4],[-14.3,-31.5],[-11.5,-32.8],[12.2,-32],[17.8,-33.7],[22.8,-30.8],[35.1,-24.8],[-4.2,-34],[7.3,-35.6],[-5,-35.6],[-7.6,-36.1],[-8.8,-36.4],[38.3,-34],[39.1,-33.5],
  [-23.3,-34.5],[-25.2,-35.1],[-27.9,-36.1],[-26.9,-37.3],[-24.9,-38.1],[-24.4,-39.2],[-25.3,-39.6],[-30.8,-38.1],[-30.9,-39.5],[-30.2,-40],[-28.6,-39.2],[-34.9,-38.9],[-35.3,-39.8],[-35.1,-41.1],[-33.4,-40.4],[-32,-41.4],[-21.4,-39.6],[-19.8,-38.8],[-18.3,-39.9],[-18,-36.6],[-17,-37.4],[-14.9,-38.2],[-13.9,-38.5],[-12.9,-39.9],[-24.3,-41.3],[-23.8,-41.5],[-22.7,-41.9],[-21.5,-41.2],[-18.6,-41.5],[-14.9,-41.5],[-27.7,-42.4],[-24.7,-42.7],[-25.6,-43.5],[-26.4,-44],[-16.2,-43.2],[-16.2,-44],[-13.5,-42.7],[-8.6,-39.9],[-4.6,-39],[-4.6,-42.9],[-1.5,-42.7],[-10.6,-44],[-8.6,-44.5],[-12.3,-45.2],[-5.7,-45.2],[-28.2,-45.9],[-22.5,-46],[-22.3,-46.7],[-12.6,-47.1],[-2.7,-47.7],[-23.5,-50.7],[-15.1,-50.9],[-10.6,-50.1],[-5.2,-49.7],[-4.9,-51.4],[-3.2,-52.2],[0.4,-52.6],[0.9,-49.3],[7.2,-51.7],[0.8,-37.5],[1.3,-40.1],[9.2,-41],[9.9,-37.7],[12.9,-36.4],[14.3,-40.4],[13.5,-42.9],[18.2,-38.2],[18.8,-37.5],[-6.5,-54.8],[-1.5,-54.2],[-1.9,-55.2],[-27.5,-56.3],[-22.7,-55.7],[-19.1,-56],[-18.9,-56.7],[-24.1,-57.2],[-20.4,-57.9],[-11.4,-57],[-26,-59.6],[-26,-60.1],[-26.4,-60.6],[-28.1,-62.2],[-27.6,-62.6],[-24.7,-64.9],[-24.4,-66.3],[-10.7,-60.3],[-9.5,-59.9],[-8.4,-60],[-6.8,-60.1],
  [62.5,-9.9],[64.7,-10.1],[69.2,-10.1],[68.7,-12.9],[58.9,-7.1],[62.2,-6.6],[66.6,-6.5],
];

const contourA1: P[] = [[40,48.7],[50,46.3],[58.6,42.5],[70,38.6],[77.1,32.5],[80,24.7],[82.1,14.4],[87.1,6],[87.4,0.2],[85,-5.9],[80,-11.7],[70,-17.5],[58.6,-22.7],[44.3,-26.9],[35.7,-29],[31.4,-31.1],[24.3,-36.2],[18.6,-41.4],[11.4,-47.2],[4.3,-56.9],[0,-59.5],[-7.1,-61.7],[-14.3,-62.7],[-24.3,-62.8],[-35.7,-61.7],[-45.7,-58.2],[-51.4,-52.4],[-52.9,-47.2],[-53.1,-42],[-52.3,-36.3],[-52.6,-32.4],[-55.7,-27.9],[-62.1,-22.1],[-65.7,-16.9],[-68.3,-9.8],[-70,-5.3],[-71.4,2.1],[-74.3,11.8],[-74.3,17],[-72.1,24.7],[-67.1,29.2],[-58.6,30.8],[-50,30.2],[-41.4,26.6],[-34.3,23.7],[-28.6,24],[-21.4,27.9],[-11.4,34.4],[0,39.2],[14.3,42.8],[27.1,46.3]];
const contourA2: P[] = [[34.3,39.9],[41.4,38.3],[44.3,33.7],[48.6,30.5],[55.7,30.2],[62.9,27.9],[66.4,22.8],[69.3,14.4],[75.7,6.6],[75,0.2],[72.1,-5.9],[65.7,-9.8],[58.6,-12.4],[53.6,-13.2],[50,-11.7],[45.7,-7.2],[42.9,-5.1],[38.6,-5.6],[32.9,-9.8],[25.7,-14.3],[20,-18.2],[10.7,-22],[6.4,-24.6],[5.7,-29.2],[6.4,-34.3],[5,-42],[1.4,-47.2],[-8.6,-53],[-18.6,-55.6],[-28.6,-55.9],[-38.6,-53],[-43.6,-47.2],[-44.3,-42.7],[-42.1,-36.9],[-37.9,-28.5],[-32.9,-24.3],[-24.3,-21.4],[-17.1,-18.5],[-16,-15.6],[-19.3,-9.2],[-21.4,-5.9],[-22.1,0.2],[-20,8.6],[-14.3,18.3],[-8.6,26],[-1.4,31.2],[10,34.7],[22.9,38.3]];
const contourA3: P[] = [[27.1,32.1],[15.7,30.8],[4.3,29.2],[-2.9,25.4],[-8.6,19.5],[-15,11.8],[-17.9,4.1],[-15,-3.7],[-10.7,-12.4],[-2.9,-15],[7.1,-15.6],[16.4,-14.3],[25.7,-9.2],[36.4,0.8],[35.7,5.4],[30,11.8],[25.7,18.3],[25.7,24.7],[28.6,31.2]];
const contourA4: P[] = [[7.1,19.2],[15.7,16.3],[22.9,9.9],[26.4,3.4],[25.7,-2.4],[18.6,-7.2],[8.6,-9.3],[-1.4,-7.9],[-7.1,-0.5],[-5.7,5.4],[-2.9,11.8],[1.4,17.6]];
const contourA5: P[] = [[39.3,23.3],[41.1,21.5],[40,18.6],[37.9,17.9],[36.4,20.2],[37.4,22.5]];
const contourA6: P[] = [[55.7,15.8],[60,13.7],[65.7,5.4],[67.1,-0.5],[64.3,-3.7],[58.6,-4],[51.4,1.5],[47.9,7.3],[50,12.8]];
const contourA7: P[] = [[-40,-3.5],[-35,-5.6],[-34.3,-8.5],[-37.1,-13],[-42.1,-15.5],[-46.4,-13.7],[-48.6,-9.8],[-47.1,-5.9],[-44.3,-4]];
const contourA8: P[] = [[-14.3,-25.2],[-5.7,-26.9],[0,-33],[0,-39.5],[-4.3,-46.6],[-12.9,-51.1],[-24.3,-53.4],[-34.3,-51.1],[-40,-45.9],[-40.7,-42],[-37.1,-34.9],[-30,-28.5],[-21.4,-25.6]];
const contourA9: P[] = [[-17.1,-30.3],[-10,-31.7],[-7.1,-36.3],[-8.6,-42],[-15.7,-47.2],[-24.3,-49.3],[-32.1,-47.2],[-35.3,-42.7],[-32.9,-36.3],[-25.7,-31.7]];

const contourB1: P[] = [[5.6,62.6],[11.5,61.4],[18.2,57],[24.8,52.1],[35.4,48.6],[52.7,43.4],[67.2,37.6],[80.5,29.9],[89.8,18.3],[93.1,9.2],[92.4,0.8],[87.8,-6.6],[79.2,-14.3],[68.6,-18.8],[59.3,-20.8],[51.3,-21.3],[46,-23.7],[41.9,-28.5],[38.1,-34.3],[32.8,-40.1],[23.5,-47.9],[12.9,-58.2],[2.3,-65.9],[-9.7,-70.5],[-22.9,-72.8],[-32.2,-71.7],[-38.9,-68.5],[-44.2,-60.8],[-49.5,-50.5],[-54.1,-38.2],[-57.4,-32.4],[-65.4,-24],[-69.4,-15.6],[-74,-5.9],[-78.6,5.4],[-81.6,11.8],[-80,19.5],[-73.3,29.2],[-65.4,35],[-54.8,39.9],[-44.2,42.8],[-33.6,46],[-21.6,51.5],[-8.4,58.9],[-0.4,61.8]];
const contourB2: P[] = [[-5.3,41.8],[-12.3,40.2],[-24.3,36.6],[-37.5,33.1],[-52.1,29.9],[-60.1,26],[-65.4,20.2],[-66.7,13.1],[-64.7,3.4],[-60.1,-3.7],[-58.1,-5.9],[-54.1,-13],[-48.1,-18.2],[-41.5,-24],[-38.9,-27.9],[-38.6,-36.3],[-38.2,-44],[-33.6,-51.1],[-25.6,-57.6],[-17.6,-59.6],[-9.7,-58.2],[-0.4,-53],[8.9,-44],[19.5,-31.7],[26.1,-20.8],[30.1,-9.2],[32.1,-3.7],[34.1,-0.5],[38.7,0.8],[46,-0.5],[58,-5],[65.9,-6.3],[71.2,-4.3],[77.2,2.1],[78.5,9.2],[73.9,16.3],[63.3,24.7],[52.7,29.9],[40.7,33.4],[28.8,34.4],[18.2,34.1],[10.2,35.7],[3.6,38.6],[-1.7,41.2]];
const contourB3: P[] = [[-21,31.2],[-17,29.9],[-16.3,26.6],[-21,19.5],[-25.6,8.6],[-24.3,0.8],[-20.3,-6.3],[-20,-8.2],[-16.3,-5.9],[-12.3,-0.5],[-4.4,3.7],[2.3,6.6],[9.5,8.1],[15.5,6.6],[22.1,1.5],[25.5,-5.6],[25.5,-9.2],[22.1,-18.8],[15.5,-26],[6.2,-36.3],[0.9,-43.4],[-7,-52.4],[-16.3,-56],[-24.3,-54.3],[-30.9,-50.5],[-34.9,-43.4],[-34.9,-36.3],[-31.5,-27.9],[-30.9,-22],[-34.9,-20.4],[-41.5,-17.5],[-48.8,-13],[-52.8,-7.2],[-56.8,-4.3],[-61.4,5.4],[-62.7,15],[-60.1,22.8],[-53.4,26.6],[-41.5,28.6],[-29.6,30.2]];
const contourB4: P[] = [[-45.5,23.4],[-38.9,23.1],[-34.9,20.2],[-34.9,13.7],[-36.2,8.6],[-34.2,0.2],[-32.6,-5.6],[-33.6,-7.9],[-36.2,-12.4],[-40.2,-13.4],[-45.5,-11],[-48.1,-5.9],[-50.8,-1.1],[-54.8,6],[-57.2,13.7],[-54.8,19.5],[-50.8,22.5]];
const contourB5: P[] = [[8.2,-0.8],[15.5,-2.7],[20.2,-6.9],[21.5,-9.2],[18.8,-16.9],[12.9,-24.6],[3.6,-31.7],[-0.4,-36.9],[-5.7,-45.9],[-11,-49.8],[-16.3,-51.5],[-24.3,-50.5],[-29.6,-45.9],[-30.9,-38.2],[-26.9,-30.5],[-19,-25.9],[-13.7,-18.2],[-7,-9.8],[-5,-5.6],[0.9,-2.4]];
const contourB6: P[] = [[34.1,29.4],[43.4,29.4],[55.3,27],[64.6,22.8],[71.2,16.3],[74.5,9.2],[73.2,2.8],[67.2,-1.1],[60.6,-1.4],[52.7,1.5],[44.7,6],[39.4,11.8],[32.8,19.5],[25.5,24.1],[24.1,25.4],[27.5,27.9]];
const contourB7: P[] = [[51.3,22.1],[56.6,21.2],[63.3,15.7],[66.6,10.5],[65.9,7.3],[61.9,6.1],[56.6,7.9],[51.3,13.1],[47.3,18.3],[48,21.2]];
const contourB8: P[] = [[13.5,23.7],[15.8,23.1],[13.5,22.3],[11.9,23.1]];

const contoursA = [contourA1, contourA2, contourA3, contourA4, contourA5, contourA6, contourA7, contourA8, contourA9];
const contoursB = [contourB1, contourB2, contourB3, contourB4, contourB5, contourB6, contourB7, contourB8];

const toXY = (pts: P[]) => pts.map(([x, y]) => ({ x, y }));
const LINE = "#cccccc";
const FONT = '"Liberation Sans", Arial, sans-serif';

function hexagon(r: number, fill: string, stroke: string) {
  const size = Math.ceil(2 * r + 2);
  const c = document.createElement("canvas");
  c.width = size;
  c.height = size;
  const g = c.getContext("2d")!;
  g.beginPath();
  for (let i = 0; i < 6; i++) {
    const a = -Math.PI / 2 + (i * Math.PI) / 3;
    const px = size / 2 + r * Math.cos(a);
    const py = size / 2 + r * Math.sin(a);
    if (i === 0) g.moveTo(px, py);
    else g.lineTo(px, py);
  }
  g.closePath();
  g.fillStyle = fill;
  g.fill();
  g.lineWidth = 0.7;
  g.strokeStyle = stroke;
  g.stroke();
  return c;
}

const frame = {
  id: "frame",
  beforeDatasetsDraw(chart: any) {
    const { ctx, chartArea: a } = chart;
    ctx.save();
    ctx.strokeStyle = LINE;
    ctx.lineWidth = 1.6;
    ctx.strokeRect(a.left, a.top, a.right - a.left, a.bottom - a.top);
    ctx.restore();
  },
};

function Panel(props: {
  pruned: P[];
  preserved: P[];
  contours: P[][];
  showY: boolean;
  left: number;
  width: number;
  padLeft: number;
  padRight: number;
}) {
  const ref = useRef<HTMLCanvasElement>(null);
  useEffect(() => {
    const minus = (v: any) => String(v).replace("-", "\u2212");
    const xLabel = (v: any) => {
      // The two labels that would collide in the gap between the panels are nudged apart.
      if (props.showY && v === 100) return "100      ";
      if (!props.showY && v === -100) return "        " + minus(v);
      return minus(v);
    };
    const chart = new Chart(ref.current!, {
      type: "scatter",
      data: {
        datasets: [
          {
            data: toXY(textTokens),
            pointStyle: hexagon(5.7, "rgba(255,0,0,0.93)", "rgba(150,0,0,0.8)") as any,
            pointRadius: 6,
            showLine: false,
          },
          {
            data: toXY(props.preserved),
            pointRadius: 3.3,
            borderWidth: 0,
            backgroundColor: "rgba(0,0,255,0.6)",
            showLine: false,
          },
          ...props.contours.map((c) => ({
            data: toXY([...c, c[0]]),
            showLine: true,
            tension: 0.38,
            pointRadius: 0,
            borderWidth: 1,
            borderColor: "rgba(110,110,255,0.65)",
            backgroundColor: "transparent",
            fill: false,
          })),
          {
            data: toXY(props.pruned),
            pointRadius: 3.3,
            borderWidth: 0,
            backgroundColor: "rgba(128,128,128,0.24)",
            showLine: false,
          },
        ],
      } as any,
      options: {
        animation: false,
        responsive: false,
        layout: {
          padding: { left: 0, right: props.padRight, top: 6, bottom: 0 },
        },
        plugins: { legend: { display: false }, tooltip: { enabled: false } },
        scales: {
          x: {
            min: -100,
            max: 100,
            afterBuildTicks: (s: any) => {
              s.ticks = xTicks.map((value) => ({ value }));
            },
            afterFit: (s: any) => {
              s.height = 73;
              s.paddingLeft = 0;
              s.paddingRight = 0;
            },
            border: { display: false },
            grid: {
              drawTicks: false,
              lineWidth: 1,
              color: (c: any) => (c.tick && c.tick.value === 0 ? LINE : "transparent"),
            },
            ticks: {
              autoSkip: false,
              maxRotation: 0,
              padding: 7,
              color: "#000",
              font: { family: '"DejaVu Sans"', size: 11.5 },
              callback: xLabel,
            },
          },
          y: {
            min: -75,
            max: 75,
            afterBuildTicks: (s: any) => {
              s.ticks = yTicks.map((value) => ({ value }));
            },
            afterFit: (s: any) => {
              s.width = props.padLeft;
              s.paddingTop = 0;
              s.paddingBottom = 0;
            },
            border: { display: false },
            grid: {
              drawTicks: false,
              lineWidth: 1,
              color: (c: any) => (c.tick && c.tick.value === 0 ? LINE : "transparent"),
            },
            ticks: {
              display: props.showY,
              autoSkip: false,
              padding: 9,
              color: "#000",
              font: { family: '"DejaVu Sans"', size: 11.5 },
              callback: minus,
            },
          },
        },
      } as any,
      plugins: [frame],
    });
    return () => chart.destroy();
  }, []);
  return (
    <canvas
      ref={ref}
      width={props.width}
      height={855}
      style={{ position: "absolute", left: props.left, top: 0, width: props.width, height: 855 }}
    />
  );
}

function Label(props: { text: string; left: number; top: number; size?: number }) {
  return (
    <span
      style={{
        position: "absolute",
        left: props.left,
        top: props.top,
        font: `${props.size || 48.2}px/48px ${FONT}`,
        fontKerning: "none",
        color: "#000",
        whiteSpace: "nowrap",
      }}
    >
      {props.text}
    </span>
  );
}

export default function App() {
  const dot = (top: number, bg: string, border: string) => (
    <div
      style={{
        position: "absolute",
        left: 637,
        top,
        width: 21,
        height: 21,
        borderRadius: "50%",
        background: bg,
        border: `1px solid ${border}`,
      }}
    />
  );
  return (
    <div style={{ position: "absolute", left: 0, top: 0, width: 1661, height: 855, overflow: "hidden", background: "#fff" }}>
      <Panel
        pruned={prunedShared}
        preserved={preservedA}
        contours={contoursA}
        showY
        left={0}
        width={872}
        padLeft={82.3}
        padRight={21.3}
      />
      <Panel
        pruned={[...prunedShared, ...prunedBOnly]}
        preserved={preservedB}
        contours={contoursB}
        showY={false}
        left={850}
        width={811}
        padLeft={25.3}
        padRight={16.3}
      />
      <div style={{ position: "absolute", left: 846, top: 9, width: 34, height: 142, background: "#fff" }} />
      {dot(21, "rgba(128,128,128,0.2)", "rgba(128,128,128,0.1)")}
      {dot(65, "#6666ff", "#5555ff")}
      <div
        style={{
          position: "absolute",
          left: 637,
          top: 117.5,
          width: 22,
          height: 22,
          background: "#ff0000",
          clipPath: "polygon(50% 0, 100% 25%, 100% 75%, 50% 100%, 0 75%, 0 25%)",
        }}
      />
      <Label text={legendLabels[0]} left={676} top={6} />
      <Label text={legendLabels[1]} left={676} top={51.4} />
      <Label text={legendLabels[2]} left={676} top={102} />
      <Label text="(a)" left={92} top={7} size={46.5} />
      <Label text="(b)" left={1574} top={7} size={46.5} />
      <span
        style={{
          position: "absolute",
          left: 859,
          top: 805,
          transform: "translateX(-50%)",
          font: `47.5px/48px ${FONT}`,
          fontKerning: "none",
          color: "#000",
          whiteSpace: "nowrap",
        }}
      >
        {xTitle}
      </span>
      <span
        style={{
          position: "absolute",
          left: 21,
          top: 405,
          transform: "translate(-50%,-50%) rotate(-90deg)",
          font: `47.5px/48px ${FONT}`,
          fontKerning: "none",
          color: "#000",
          whiteSpace: "nowrap",
        }}
      >
        {yTitle}
      </span>
    </div>
  );
}
